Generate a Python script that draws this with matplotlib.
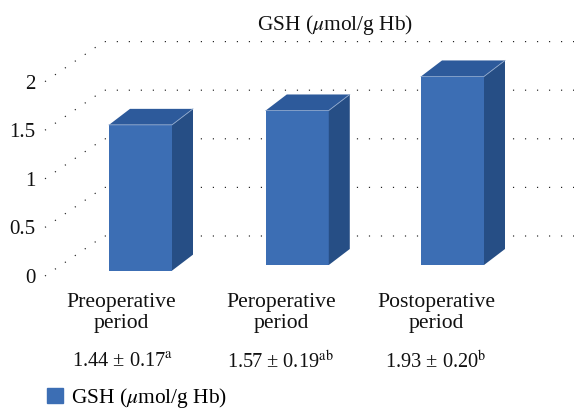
import matplotlib
matplotlib.use('Agg')
import matplotlib.pyplot as plt
from matplotlib.patches import Polygon, Patch

plt.rcParams['font.family'] = ['Liberation Serif', 'DejaVu Serif']
plt.rcParams['mathtext.fontset'] = 'stix'

W, H = 574, 411

## data
categories = ['Preoperative\nperiod', 'Peroperative\nperiod', 'Postoperative\nperiod']
heights = [1.50, 1.59, 1.94]
bases = [0.055, 0.113, 0.113]
value_labels = [r'1.44 ± 0.17$^{\mathrm{a}}$', r'1.57 ± 0.19$^{\mathrm{ab}}$', r'1.93 ± 0.20$^{\mathrm{b}}$']
yticks = [0, 0.5, 1, 1.5, 2]
ytick_labels = ['0', '0.5', '1', '1.5', '2']
series_name = r'GSH ($\mu$mol/g Hb)'

## scales, pixels per unit
px_x = 156.0
px_y = 97.2
x0_px = 140.5   # centre of the first bar
y0_px = 276.0   # value 0 on the front edge
left_px = 45

fig = plt.figure(figsize=(W / 100, H / 100), dpi=100)
ax = fig.add_axes([left_px / W, 1 - y0_px / H, (W - left_px) / W, y0_px / H])
ax.set_xlim((left_px - x0_px) / px_x, (W - x0_px) / px_x)
ax.set_ylim(0, y0_px / px_y)
for s in ax.spines.values():
    s.set_visible(False)

## walls: dotted lines going back and then across
wall_dx = 59 / px_x
wall_dy = 40 / px_y
for v in yticks:
    ax.plot([ax.get_xlim()[0], ax.get_xlim()[0] + wall_dx, ax.get_xlim()[1]],
            [v, v + wall_dy, v + wall_dy],
            color='#222222', lw=0.85, linestyle=(0, (1.0, 9.17)), clip_on=False, zorder=1)

## bars, front face first and then the top and the side
width = 63 / px_x
dx = 21 / px_x
dy = 16 / px_y
xs = [0, 1.005, 2]
bars = ax.bar(xs, heights, width=width, bottom=bases, color='#3C6EB4', linewidth=0, zorder=3)
for r in bars:
    l, b = r.get_x(), r.get_y()
    t, e = b + r.get_height(), l + r.get_width()
    ax.add_patch(Polygon([(l, t), (e, t), (e + dx, t + dy), (l + dx, t + dy)],
                         facecolor='#2D5A9B', edgecolor='none', zorder=3))
    ax.add_patch(Polygon([(e, b), (e + dx, b + dy), (e + dx, t + dy), (e, t)],
                         facecolor='#264E85', edgecolor='none', zorder=3))
    ax.plot([l, e, e + dx], [t, t, t + dy], color='#8FA9CE', lw=0.6, zorder=4)

ax.set_yticks(yticks)
ax.set_yticklabels(ytick_labels, fontsize=15, color='#111111')
ax.tick_params(axis='y', length=0, pad=7)

## category labels sit left of the bars in the original
label_px = [121, 281, 436]
ax.set_xticks([(p - x0_px) / px_x for p in label_px])
ax.set_xticklabels(categories, fontsize=15.6, color='#111111', linespacing=1.2)
ax.tick_params(axis='x', length=0, pad=12)

value_px = [122.5, 280.5, 435.5]
for p, lab in zip(value_px, value_labels):
    fig.text(p / W, 1 - 362 / H, lab, ha='center', va='center', fontsize=14.7, color='#111111')

fig.text(335 / W, 1 - 25 / H, series_name, ha='center', va='center', fontsize=15.4, color='#111111')

fig.legend(handles=[Patch(color='#3C6EB4', label=series_name)], loc='lower left',
           bbox_to_anchor=(47 / W, 1 / H), frameon=False, fontsize=15.4,
           handlelength=0.75, handleheight=0.75, handletextpad=0.37, borderpad=0, borderaxespad=0)

fig.savefig('out.png', dpi=100)
